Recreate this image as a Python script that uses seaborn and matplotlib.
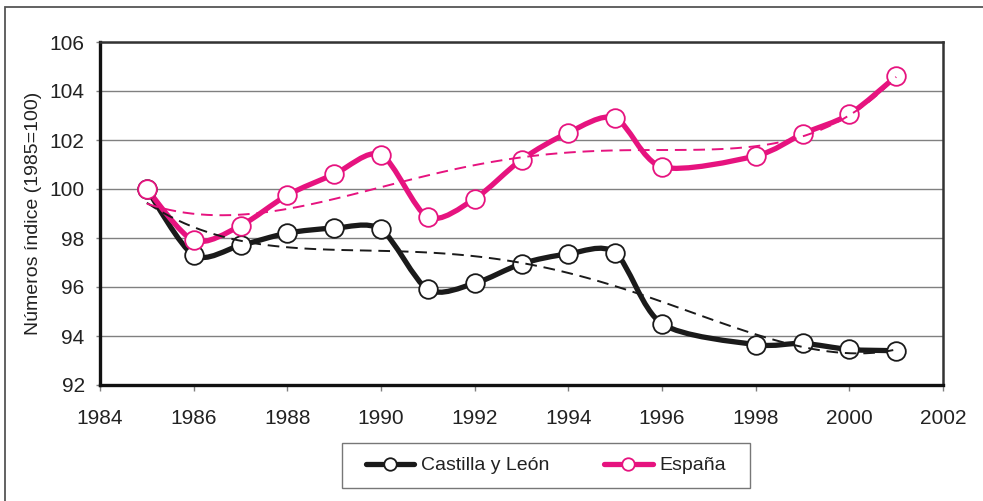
import numpy as np
import pandas as pd
import matplotlib
matplotlib.use('Agg')
import matplotlib.pyplot as plt
import seaborn as sns
from matplotlib.path import Path
from matplotlib.patches import PathPatch, Rectangle
from matplotlib.lines import Line2D

years = [1985, 1986, 1987, 1988, 1989, 1990, 1991, 1992, 1993, 1994, 1995, 1996, 1998, 1999, 2000, 2001]
castilla = [100.0, 97.3, 97.7, 98.2, 98.4, 98.35, 95.9, 96.15, 96.95, 97.35, 97.4, 94.5, 93.65, 93.7, 93.45, 93.4]
espana = [100.0, 97.9, 98.5, 99.75, 100.6, 101.4, 98.85, 99.6, 101.2, 102.3, 102.9, 100.9, 101.35, 102.25, 103.05, 104.6]
series_names = ['Castilla y León', 'España']
xticks = list(range(1984, 2003, 2))
yticks = list(range(92, 107, 2))

df = pd.DataFrame({'Año': years, 'Castilla y León': castilla, 'España': espana})

black = '#1a1a1a'
pink = '#E6137F'
colors = [black, pink]


def smooth_path(x, y, k=7.0):
    # bezier curve through the points, like a smoothed spreadsheet line
    pts = np.column_stack([x, y]).astype(float)
    n = len(pts)
    verts = [pts[0]]
    codes = [Path.MOVETO]
    for i in range(n - 1):
        p0 = pts[i - 1] if i > 0 else pts[i]
        p1 = pts[i]
        p2 = pts[i + 1]
        p3 = pts[i + 2] if i + 2 < n else pts[i + 1]
        c1 = p1 + (p2 - p0) / k
        c2 = p2 - (p3 - p1) / k
        verts += [c1, c2, p2]
        codes += [Path.CURVE4] * 3
    return Path(verts, codes)


sns.set_theme(style='white')
plt.rcParams['font.family'] = ['Liberation Sans', 'DejaVu Sans']

fig = plt.figure(figsize=(9.83, 5.01), dpi=100)
W, H = 983, 501
ax = fig.add_axes([100 / W, 1 - 385 / H, 843 / W, 343 / H])

# outer frame
fig.patches.append(Rectangle((5 / W, -0.1), 1.2, 1 - 7 / H + 0.1, transform=fig.transFigure,
                             fill=False, edgecolor='#555555', linewidth=1.3))

for name, col in zip(series_names, colors):
    ax.add_patch(PathPatch(smooth_path(df['Año'], df[name]), facecolor='none',
                           edgecolor=col, linewidth=3.8, capstyle='round', joinstyle='round', zorder=3))
    sns.scatterplot(x=df['Año'], y=df[name], ax=ax, s=180, color='white', edgecolor=col,
                    linewidth=1.3, zorder=4)

for name, col in zip(series_names, colors):
    sns.regplot(x=df['Año'], y=df[name], ax=ax, order=6, scatter=False, ci=None,
                line_kws=dict(color=col, linewidth=1.4, linestyle=(0, (6, 3.5)), zorder=5))

ax.set_xlim(1984, 2002)
ax.set_ylim(92, 106)
ax.set_xticks(xticks)
ax.set_yticks(yticks)
ax.set_xlabel('')
ax.set_ylabel('Números índice (1985=100)', fontsize=14, color='#222222')
ax.yaxis.set_label_coords(-0.069, 0.5)
ax.yaxis.grid(True, color='#808080', linewidth=1)
ax.xaxis.grid(False)
ax.tick_params(axis='x', bottom=True, length=4, width=1, color='#808080', pad=13, labelsize=15, labelcolor='#222222')
ax.tick_params(axis='y', left=True, length=3, width=1, color='#808080', pad=8, labelsize=15, labelcolor='#222222')
for side in ['left', 'bottom']:
    ax.spines[side].set_color('#111111')
    ax.spines[side].set_linewidth(2.4)
for side in ['top', 'right']:
    ax.spines[side].set_color('#333333')
    ax.spines[side].set_linewidth(1.8)

# legend
handles = [Line2D([], [], color=c, linewidth=3.8, marker='o', markersize=9,
                  markerfacecolor='white', markeredgecolor=c, markeredgewidth=1.3) for c in colors]
fig.patches.append(Rectangle((342 / W, 1 - 488 / H), 408 / W, 45 / H, transform=fig.transFigure,
                             fill=False, edgecolor='#777777', linewidth=1))
fig.legend(handles, series_names, loc='center', bbox_to_anchor=(546 / W, 1 - 465.5 / H), ncol=2,
           frameon=False, fontsize=14, handlelength=2.5, handletextpad=0.35, columnspacing=2.8,
           labelcolor='#222222')

fig.savefig('out.png', dpi=100)
